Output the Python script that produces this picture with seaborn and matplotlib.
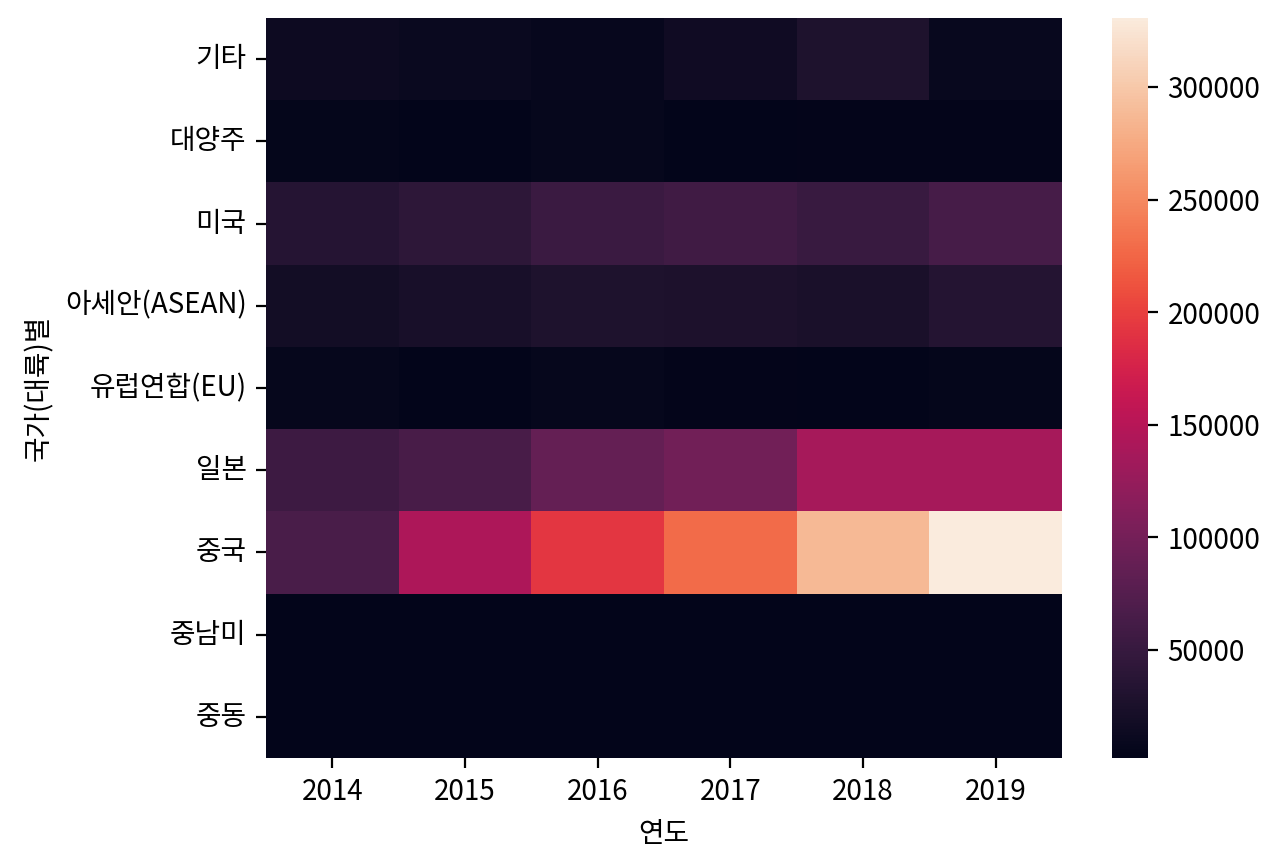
import numpy as np
import pandas as pd
import matplotlib
matplotlib.use("Agg")
import matplotlib.pyplot as plt
import seaborn as sns

plt.rcParams['font.family'] = ['Noto Sans CJK KR', 'DejaVu Sans']
plt.rcParams['axes.unicode_minus'] = False

years = [2014, 2015, 2016, 2017, 2018, 2019]
regions = ['기타', '대양주', '미국', '아세안(ASEAN)', '유럽연합(EU)', '일본', '중국', '중남미', '중동']

v_etc = [13000, 10000, 8000, 15000, 28000, 9000]
v_oceania = [5000, 3000, 6000, 3000, 4000, 4000]
v_usa = [35000, 41000, 53000, 58000, 51000, 63000]
v_asean = [18000, 23000, 28000, 27000, 25000, 34000]
v_eu = [7000, 3000, 6000, 4000, 3000, 5000]
v_japan = [55000, 64000, 87000, 97000, 137000, 137000]
v_china = [66000, 143000, 192000, 228000, 288000, 330600]
v_latam = [2300, 2200, 2400, 2300, 2200, 2300]
v_mideast = [2000, 2100, 2100, 2000, 2100, 2200]

data = pd.DataFrame(
    [v_etc, v_oceania, v_usa, v_asean, v_eu, v_japan, v_china, v_latam, v_mideast],
    index=pd.Index(regions, name='국가(대륙)별'),
    columns=pd.Index(years, name='연도'),
)

W, H = 1288, 861
fig = plt.figure(figsize=(W / 200, H / 200), dpi=200)
ax = fig.add_axes([266 / W, 1 - 758 / H, (1062 - 266) / W, (758 - 18) / H])
cax = fig.add_axes([1112 / W, 1 - 758 / H, (1148 - 1112) / W, (758 - 18) / H])

sns.heatmap(data, ax=ax, cbar_ax=cax, cmap='rocket')
ax.set_yticklabels(ax.get_yticklabels(), rotation=0)
cax.tick_params(labelsize=10)

fig.savefig('out.png', dpi=200)
